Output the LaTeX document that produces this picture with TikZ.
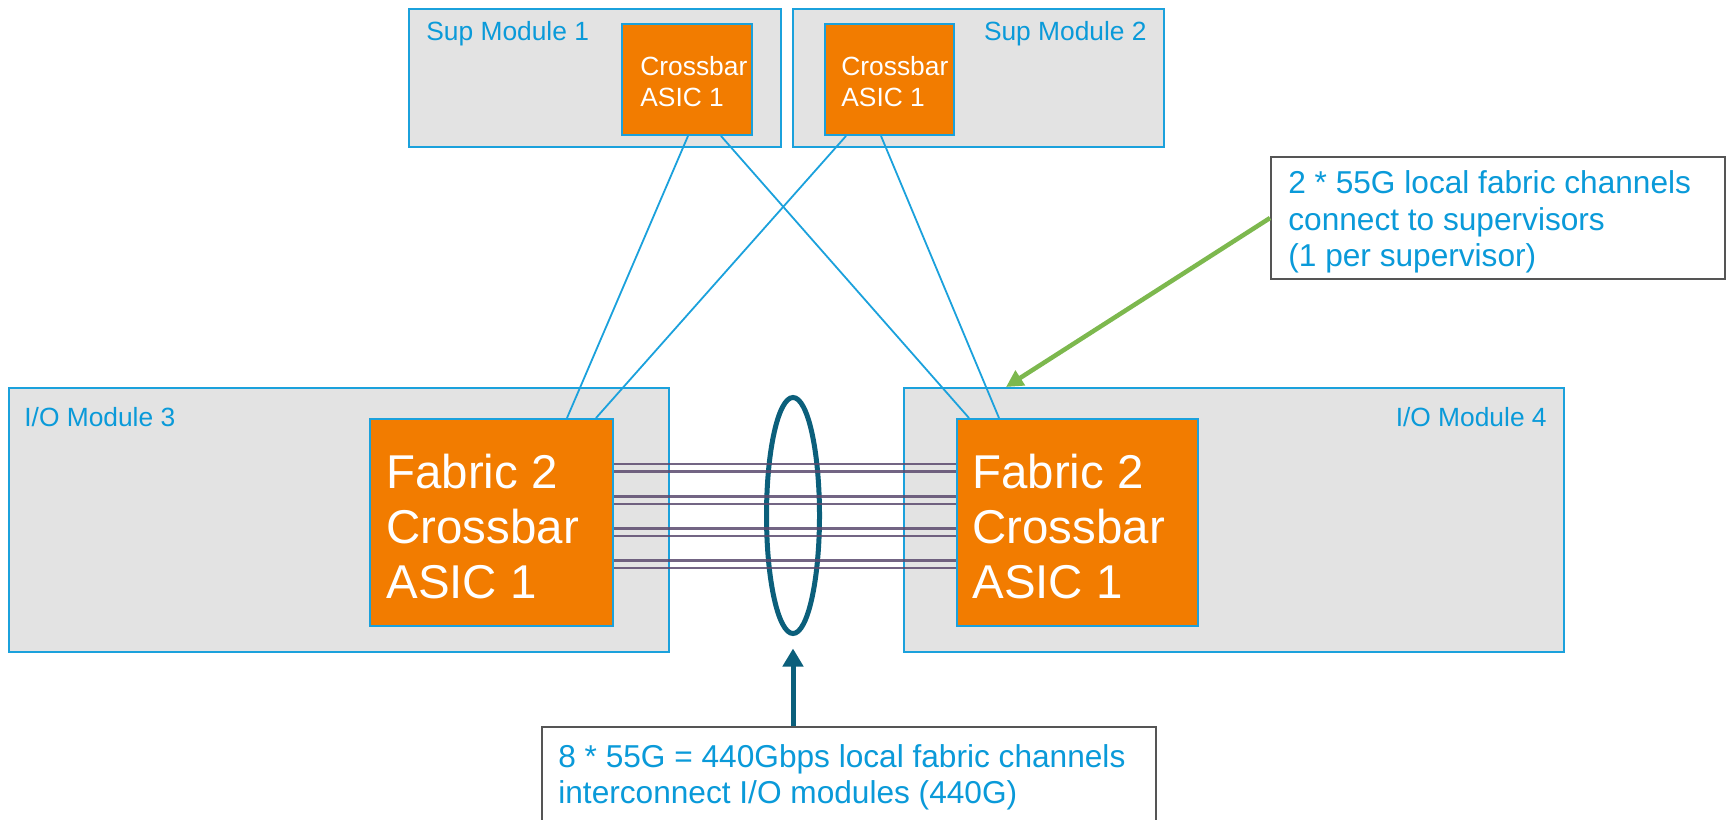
\documentclass[tikz,border=0pt]{standalone}
\usepackage{fontspec}
\setmainfont{Liberation Sans}
\usetikzlibrary{fit,arrows.meta,calc,shapes.geometric}
\definecolor{cyanb}{HTML}{1BA1DC}
\definecolor{modgray}{HTML}{E3E3E3}
\definecolor{orng}{HTML}{F27C00}
\definecolor{ovalc}{HTML}{0B5F7B}
\definecolor{purp}{HTML}{5B4A6E}
\definecolor{grn}{HTML}{7DB84E}
\definecolor{txtb}{HTML}{0A9AD9}
\definecolor{notegray}{HTML}{555555}
\tikzset{
  module/.style={draw=cyanb, line width=0.4mm, fill=modgray, inner sep=0pt},
  asic/.style={draw=cyanb, line width=0.4mm, fill=orng, inner sep=0pt},
  note/.style={draw=notegray, line width=0.4mm, fill=white, inner sep=0pt},
  modlabel/.style={text=txtb, font=\fontsize{15}{18}\selectfont, inner sep=0pt},
  smallasic/.style={text=white, align=left, font=\fontsize{15}{17.6}\selectfont, inner sep=0pt, anchor=west},
  bigasic/.style={text=white, align=left, font=\fontsize{27}{31.3}\selectfont, inner sep=0pt, anchor=west},
  notetext/.style={text=txtb, align=left, font=\fontsize{18}{20.7}\selectfont, inner sep=0pt, anchor=west},
  link/.style={draw=cyanb, line width=0.36mm},
  chan/.style={draw=purp, line width=0.56mm, opacity=0.85},
}
\begin{document}
\begin{tikzpicture}[x=0.2mm,y=-0.2mm]
\useasboundingbox (0,0) rectangle (1729,820);

% supervisor modules
\node[module, fit={(409,9) (781,147)}] (sup1) {};
\node[module, fit={(793,9) (1164,147)}] (sup2) {};
\node[asic, fit={(622,24) (752,135)}] (cb1) {};
\node[asic, fit={(825,24) (954,135)}] (cb2) {};
\node[modlabel, anchor=west] (sup1l) at (426,34) {Sup Module 1};
\node[modlabel, anchor=east] (sup2l) at (1147,34) {Sup Module 2};
\node[smallasic] (cb1t) at (640,82) {Crossbar\\ASIC 1};
\node[smallasic] (cb2t) at (841,82) {Crossbar\\ASIC 1};

% I/O modules
\node[module, fit={(9,388) (669,652)}] (io3) {};
\node[module, fit={(904,388) (1564,652)}] (io4) {};
\node[asic, fit={(370,419) (613,626)}] (fab3) {};
\node[asic, fit={(957,419) (1198,626)}] (fab4) {};
\node[modlabel, anchor=west] (io3l) at (24,417) {I/O Module 3};
\node[modlabel, anchor=east] (io4l) at (1547,417) {I/O Module 4};
\node[bigasic] (fab3t) at (386,527) {Fabric 2\\Crossbar\\ASIC 1};
\node[bigasic] (fab4t) at (972,527) {Fabric 2\\Crossbar\\ASIC 1};

% supervisor links
\draw[link] ($(cb1.south west)+(67,0)$) -- ($(fab3.north west)+(198,0)$);
\draw[link] ($(cb1.south west)+(100,0)$) -- ($(fab4.north west)+(13,0)$);
\draw[link] ($(cb2.south west)+(22,0)$) -- ($(fab3.north west)+(227,0)$);
\draw[link] ($(cb2.south west)+(57,0)$) -- ($(fab4.north west)+(43,0)$);

% oval grouping the channels
\node[draw=ovalc, line width=1mm, ellipse, minimum width=53*0.2mm, minimum height=236*0.2mm, inner sep=0pt] (oval) at (793,515.5) {};

% fabric channels
\foreach \dy in {46,53.5,78.5,86,110.5,118,142.5,150}{
  \draw[chan] ($(fab3.north east)+(0,\dy)$) -- ($(fab4.north west)+(0,\dy)$);
}

% notes
\node[note, fit={(1271,157) (1725,279)}] (note1) {};
\node[notetext] (note1t) at (1288,222) {2 * 55G local fabric channels\\connect to supervisors\\(1 per supervisor)};
\node[note, fit={(542,727) (1156,840)}] (note2) {};
\node[notetext] (note2t) at (558,777) {8 * 55G = 440Gbps local fabric channels\\interconnect I/O modules (440G)};

% arrows
\draw[grn, line width=0.9mm, -{Triangle[length=3.4mm,width=3.4mm]}] (note1.west) -- ($(io4.north west)+(103,0)$);
\draw[ovalc, line width=1mm, -{Triangle[length=3.6mm,width=4mm]}, shorten >=2.5mm] (note2.north -| oval.south) -- (oval.south);
\end{tikzpicture}
\end{document}
